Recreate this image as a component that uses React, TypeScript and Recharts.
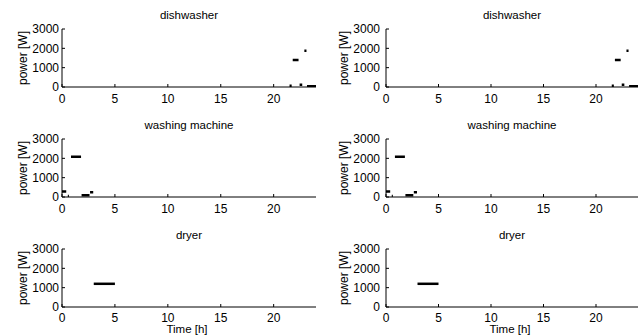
import { Line, LineChart, XAxis, YAxis } from "recharts";

const titles = ["dishwasher", "washing machine", "dryer"];
const hourTicks = [0, 5, 10, 15, 20];
const powerTicks = [0, 1000, 2000, 3000];

// each appliance: on-periods as [start h, end h] with the power drawn in W
const dishwasherStart = [21.5, 21.8, 22.45, 22.9, 23.15];
const dishwasherEnd = [21.7, 22.35, 22.7, 23.1, 24];
const dishwasherPower = [60, 1400, 110, 1880, 40];

const washerStart = [0, 0.55, 0.85, 1.85, 2.65];
const washerEnd = [0.4, 0.65, 1.8, 2.6, 2.95];
const washerPower = [290, 50, 2080, 90, 240];

const dryerStart = [3.0];
const dryerEnd = [5.0];
const dryerPower = [1200];

function toPoints(start: number[], end: number[], power: number[]) {
  const pts: { t: number; p: number | null }[] = [];
  start.forEach((s, i) => {
    pts.push({ t: s, p: power[i] });
    pts.push({ t: end[i], p: power[i] });
    pts.push({ t: end[i], p: null });
  });
  return pts;
}

const series = [
  toPoints(dishwasherStart, dishwasherEnd, dishwasherPower),
  toPoints(washerStart, washerEnd, washerPower),
  toPoints(dryerStart, dryerEnd, dryerPower),
];

const font = "'Liberation Sans', Arial, Helvetica, sans-serif";
const tickStyle = { fontSize: 12, fill: "#000", fontFamily: font };

// column geometry: chart left, width, y axis width, right margin, y tick margin
const cols = [
  { left: 0, width: 320, yw: 62, right: 4, ym: 6 },
  { left: 320, width: 319, yw: 66, right: 1, ym: 9 },
];

function Panel({ row, col }: { row: number; col: number }) {
  const c = cols[col];
  const top = row * 110;
  const plotL = c.left + c.yw;
  const plotR = c.left + c.width - c.right;
  const mid = (plotL + plotR) / 2;
  return (
    <>
      <div
        style={{
          position: "absolute",
          left: mid - 80,
          width: 160,
          top: top + 7,
          lineHeight: "16px",
          fontSize: 11.5,
          textAlign: "center",
        }}
      >
        {titles[row]}
      </div>
      <div
        style={{
          position: "absolute",
          left: c.left + (col === 0 ? 23 : 24) - 40,
          top: top + 58 - 8,
          width: 80,
          lineHeight: "16px",
          fontSize: 12,
          textAlign: "center",
          transform: "rotate(-90deg)",
        }}
      >
        power [W]
      </div>
      {row === 2 && (
        <div
          style={{
            position: "absolute",
            left: mid - 42,
            width: 80,
            top: 324,
            lineHeight: "11px",
            fontSize: 11.5,
            textAlign: "center",
          }}
        >
          Time [h]
        </div>
      )}
      <div style={{ position: "absolute", left: c.left, top }}>
        <LineChart
          width={c.width}
          height={110}
          data={series[row]}
          margin={{ top: 29, right: c.right, bottom: 0, left: 0 }}
        >
          <XAxis
            dataKey="t"
            type="number"
            domain={[0, 24]}
            ticks={hourTicks}
            interval={0}
            allowDataOverflow
            height={23}
            tick={tickStyle}
            tickSize={-3}
            tickMargin={row === 2 ? 9 : 10}
            axisLine={{ stroke: "#000" }}
            tickLine={{ stroke: "#000" }}
          />
          <YAxis
            type="number"
            domain={[0, 3000]}
            ticks={powerTicks}
            interval={0}
            allowDataOverflow
            width={c.yw}
            tick={tickStyle}
            tickSize={-3}
            tickMargin={c.ym}
            axisLine={{ stroke: "#000" }}
            tickLine={{ stroke: "#000" }}
          />
          <Line
            dataKey="p"
            type="linear"
            stroke="#000"
            strokeWidth={2.5}
            dot={false}
            activeDot={false}
            connectNulls={false}
            isAnimationActive={false}
          />
        </LineChart>
      </div>
    </>
  );
}

export default function App() {
  return (
    <div
      style={{
        position: "absolute",
        left: 0,
        top: 0,
        width: 639,
        height: 336,
        overflow: "hidden",
        background: "#fff",
        fontFamily: font,
        color: "#000",
      }}
    >
      {[0, 1, 2].map((r) =>
        [0, 1].map((c) => <Panel key={`${r}-${c}`} row={r} col={c} />),
      )}
    </div>
  );
}
